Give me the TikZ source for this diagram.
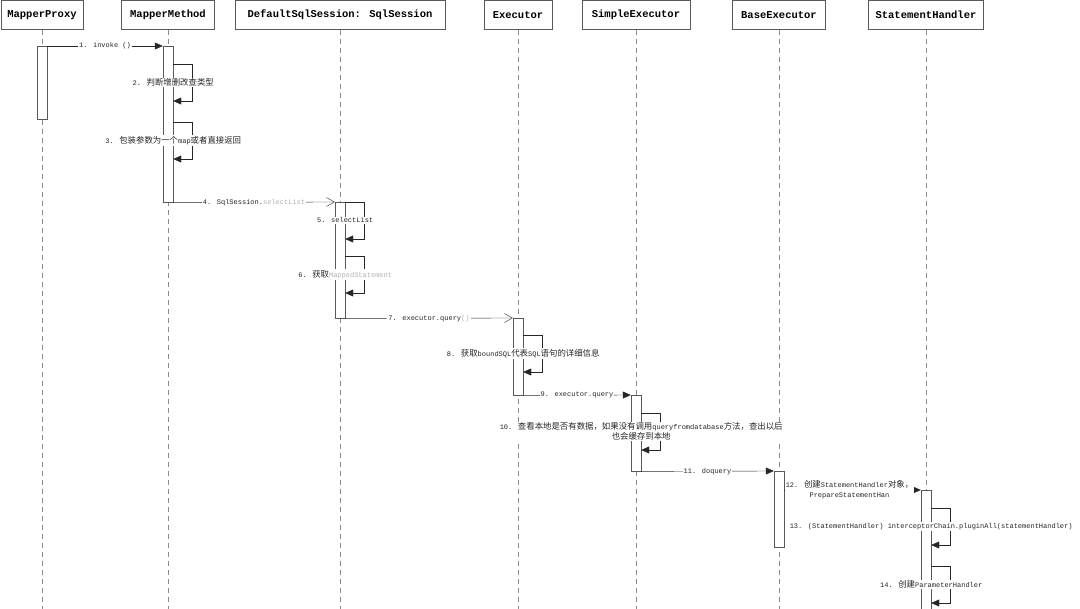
\documentclass[tikz,border=0pt]{standalone}
\usepackage{fontspec}
\usetikzlibrary{arrows.meta, positioning}
\newfontfamily\headfont{Liberation Mono}
\newfontfamily\lblfont{Liberation Mono}
\newfontfamily\cjkfont{Noto Sans CJK SC}[Scale=1.2]
\newcommand\zh[1]{{\cjkfont #1}}
\newcommand\lite[1]{\textcolor{black!30}{#1}}

\begin{document}
\begin{tikzpicture}[
      x=1pt, y=-1pt, >={Triangle[length=8pt,width=7pt]},
      head/.style={draw=black!65, fill=white, minimum height=29pt, inner sep=0pt,
          font=\headfont\bfseries\fontsize{10.5}{12}\selectfont},
      life/.style={draw=black!45, dash pattern=on 5pt off 4pt},
      act/.style={draw=black!65, fill=white, minimum width=10pt, inner sep=0pt, anchor=north},
      msg/.style={->, draw=black!85},
      call/.style={-{Straight Barb[length=8pt,width=9pt]}, draw=black!85},
      lbl/.style={fill=white, inner sep=1pt, align=center, text=black!85,
          font=\lblfont\fontsize{7}{10}\selectfont}
      ]
      \useasboundingbox (0,0) rectangle (1080,609);
      \coordinate (bottom) at (0,612);

      % objects
      \node[head, minimum width=82pt]  (mp)  at (42,15)  {MapperProxy};
      \node[head, minimum width=93pt]  (mm)  at (168,15) {MapperMethod};
      \node[head, minimum width=210pt] (dss) at (340,15) {DefaultSqlSession: SqlSession};
      \node[head, minimum width=68pt]  (ex)  at (518,15) {Executor};
      \node[head, minimum width=108pt] (se)  at (636,15) {SimpleExecutor};
      \node[head, minimum width=93pt]  (be)  at (779,15) {BaseExecutor};
      \node[head, minimum width=115pt] (sh)  at (926,15) {StatementHandler};

      \foreach \o in {mp,mm,dss,ex,se,be,sh}
        \draw[life] (\o.south) -- (\o.south |- bottom);

      % activations
      \node[act, minimum height=73pt]  (aMP)  at (42,46)  {};
      \node[act, minimum height=156pt] (aMM)  at (168,46) {};
      \node[act, minimum height=116pt] (aDSS) at (340,202) {};
      \node[act, minimum height=77pt]  (aEX)  at (518,318) {};
      \node[act, minimum height=76pt]  (aSE)  at (636,395) {};
      \node[act, minimum height=76pt]  (aBE)  at (779,471) {};
      \node[act, minimum height=130pt] (aSH)  at (926,490) {};

      % calls
      \draw[msg]  (aMP.north east) -- node[lbl] {1. invoke ()} (aMM.north west);
      \draw[call] (aMM.south east) -- node[lbl] {4. SqlSession.\lite{selectList}} (aDSS.north west);
      \draw[call] (aDSS.south east) -- node[lbl] {7. executor.query\lite{()}} (aEX.north west);
      \draw[msg]  (aEX.south east) -- node[lbl] {9. executor.query} (aSE.north west);
      \draw[msg]  (aSE.south east) -- node[lbl] {11. doquery} (aBE.north west);
      \draw[msg]  (aBE.east |- aSH.north) -- node[lbl, xshift=-3pt] {12. \zh{创建}StatementHandler\zh{对象，}\\PrepareStatementHan} (aSH.north west);

      % self calls
      \foreach \a/\dy/\txt in {
          aMM/18/{2. \zh{判断增删改查类型}},
          aMM/76/{3. \zh{包装参数为一个}map\zh{或者直接返回}},
          aDSS/0/{5. selectList},
          aDSS/54/{6. \zh{获取}\lite{MappedStatement}},
          aEX/17/{8. \zh{获取}boundSQL\zh{代表}SQL\zh{语句的详细信息}},
          aSE/18/{10. \zh{查看本地是否有数据，如果没有调用}queryfromdatabase\zh{方法，查出以后}\\\zh{也会缓存到本地}},
          aSH/18/{13. (StatementHandler) interceptorChain.pluginAll(statementHandler)},
          aSH/76/{14. \zh{创建}ParameterHandler}} {
        \draw[msg] ([yshift=-\dy pt]\a.north east) -- ++(19,0) -- ++(0,37) -- ++(-19,0);
        \node[lbl] at ([yshift=-\dy pt-18.5pt]\a.north east) {\txt};
      }
    \end{tikzpicture}
\end{document}
